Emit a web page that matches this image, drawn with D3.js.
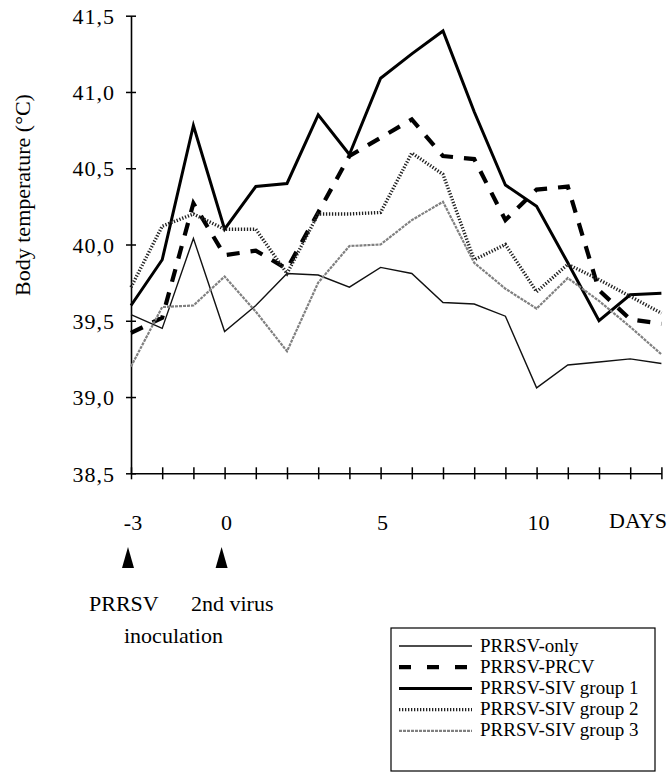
<!DOCTYPE html>
<html>
<head>
<meta charset="UTF-8">
<script src="https://d3js.org/d3.v7.min.js"></script>
<style>
  body { margin: 0; background: #fff; }
  text { font-family: "Liberation Serif", "Times New Roman", serif; fill: #000; }
</style>
</head>
<body>
<svg></svg>
<script>
let width = 672, height = 773;

// days after the 2nd virus inoculation
const days = d3.range(-3, 15);
const yTicks = [38.5, 39.0, 39.5, 40.0, 40.5, 41.0, 41.5];
const xLabels = [-3, 0, 5, 10];

// mean body temperature per group (°C)
const prrsvOnly = [39.54, 39.45, 40.04, 39.43, 39.60, 39.81, 39.80, 39.72, 39.85, 39.81, 39.62, 39.61, 39.53, 39.06, 39.21, 39.23, 39.25, 39.22];
const prrsvPrcv = [39.42, 39.52, 40.27, 39.93, 39.96, 39.84, 40.21, 40.58, 40.70, 40.82, 40.58, 40.56, 40.16, 40.36, 40.38, 39.70, 39.51, 39.48];
const sivGroup1 = [39.60, 39.90, 40.78, 40.10, 40.38, 40.40, 40.85, 40.59, 41.09, 41.25, 41.40, 40.87, 40.39, 40.25, 39.88, 39.50, 39.67, 39.68];
const sivGroup2 = [39.72, 40.12, 40.20, 40.10, 40.10, 39.81, 40.20, 40.20, 40.21, 40.60, 40.46, 39.90, 40.00, 39.69, 39.87, 39.77, 39.66, 39.55];
const sivGroup3 = [39.20, 39.59, 39.60, 39.79, 39.56, 39.30, 39.75, 39.99, 40.00, 40.16, 40.28, 39.88, 39.71, 39.58, 39.78, 39.63, 39.46, 39.28];

const series = [
  { name: "PRRSV-only", values: prrsvOnly, stroke: "#111", width: 1.4, dash: null },
  { name: "PRRSV-PRCV", values: prrsvPrcv, stroke: "#000", width: 4.2, dash: "13,11" },
  { name: "PRRSV-SIV group 1", values: sivGroup1, stroke: "#000", width: 3, dash: null },
  { name: "PRRSV-SIV group 2", values: sivGroup2, stroke: "#222", width: 3.4, dash: "1.3,1.7" },
  { name: "PRRSV-SIV group 3", values: sivGroup3, stroke: "#808080", width: 2.2, dash: "3,1" }
];

let svg = d3.select("svg")
  .attr("width", width)
  .attr("height", height)
  .attr("font-family", "Liberation Serif");

let x = d3.scaleLinear().domain([-3, 14]).range([131, 661.4]);
let y = d3.scaleLinear().domain([38.5, 41.5]).range([473.3, 15.7]);

// y axis
let yAxis = svg.append("g")
  .attr("transform", "translate(" + x(-3) + ",0)")
  .call(d3.axisLeft(y).tickValues(yTicks).tickSize(0).tickFormat(d => d3.format(".1f")(d).replace(".", ",")));
yAxis.attr("font-family", "Liberation Serif").attr("font-size", 22);
yAxis.select(".domain").attr("stroke", "#000").attr("stroke-width", 1.6);
yAxis.selectAll(".tick line").attr("x1", -5).attr("x2", 5).attr("stroke", "#000").attr("stroke-width", 1.5);
yAxis.selectAll(".tick text")
  .attr("x", -16)
  .attr("dy", "0.35em")
  .style("letter-spacing", "1px")
  .attr("fill", "#000");

// x axis
let xAxis = svg.append("g")
  .attr("transform", "translate(0," + y(38.5) + ")")
  .call(d3.axisBottom(x).tickValues(days).tickSize(0).tickFormat(""));
xAxis.select(".domain").attr("stroke", "#000").attr("stroke-width", 1.6);
xAxis.selectAll(".tick line").attr("y1", -6).attr("y2", 6).attr("stroke", "#000").attr("stroke-width", 1.5);

svg.append("g")
  .selectAll("text")
  .data(xLabels)
  .enter()
  .append("text")
  .attr("x", d => x(d) + 2)
  .attr("y", 530)
  .attr("text-anchor", "middle")
  .attr("font-size", 22)
  .text(d => d);

svg.append("text")
  .attr("x", 667)
  .attr("y", 528)
  .attr("text-anchor", "end")
  .attr("font-size", 22)
  .text("DAYS");

svg.append("text")
  .attr("transform", "translate(30," + 195 + ") rotate(-90)")
  .attr("text-anchor", "middle")
  .attr("font-size", 22)
  .text("Body temperature (°C)");

// lines
let line = d3.line()
  .x((d, i) => x(days[i]))
  .y(d => y(d));

svg.append("g")
  .selectAll("path")
  .data(series)
  .enter()
  .append("path")
  .attr("d", d => line(d.values))
  .attr("fill", "none")
  .attr("stroke", d => d.stroke)
  .attr("stroke-width", d => d.width)
  .attr("stroke-dasharray", d => d.dash)
  .attr("stroke-linejoin", "miter");

// inoculation arrows
svg.append("g")
  .selectAll("path")
  .data([-3, 0])
  .enter()
  .append("path")
  .attr("d", d => {
    let cx = x(d) - 3;
    return "M" + cx + ",547 L" + (cx + 6) + ",568 L" + (cx - 6) + ",568 Z";
  })
  .attr("fill", "#000");

svg.append("text").attr("x", 89).attr("y", 611).attr("font-size", 22).text("PRRSV");
svg.append("text").attr("x", 191).attr("y", 611).attr("font-size", 22).text("2nd virus");
svg.append("text").attr("x", 124).attr("y", 643).attr("font-size", 22).text("inoculation");

// legend
let legend = svg.append("g");
legend.append("rect")
  .attr("x", 391).attr("y", 628)
  .attr("width", 264).attr("height", 143)
  .attr("fill", "none")
  .attr("stroke", "#000")
  .attr("stroke-width", 1.2);

let rows = legend.selectAll("g.row")
  .data(series)
  .enter()
  .append("g")
  .attr("class", "row")
  .attr("transform", (d, i) => "translate(0," + (646 + i * 21.2) + ")");

rows.append("line")
  .attr("x1", 399).attr("x2", 472)
  .attr("y1", 0).attr("y2", 0)
  .attr("stroke", d => d.stroke)
  .attr("stroke-width", d => d.width)
  .attr("stroke-dasharray", (d, i) => i == 1 ? "12,16" : d.dash);

rows.append("text")
  .attr("x", 480)
  .attr("y", 5.5)
  .attr("font-size", 19)
  .text(d => d.name);
</script>
</body>
</html>
